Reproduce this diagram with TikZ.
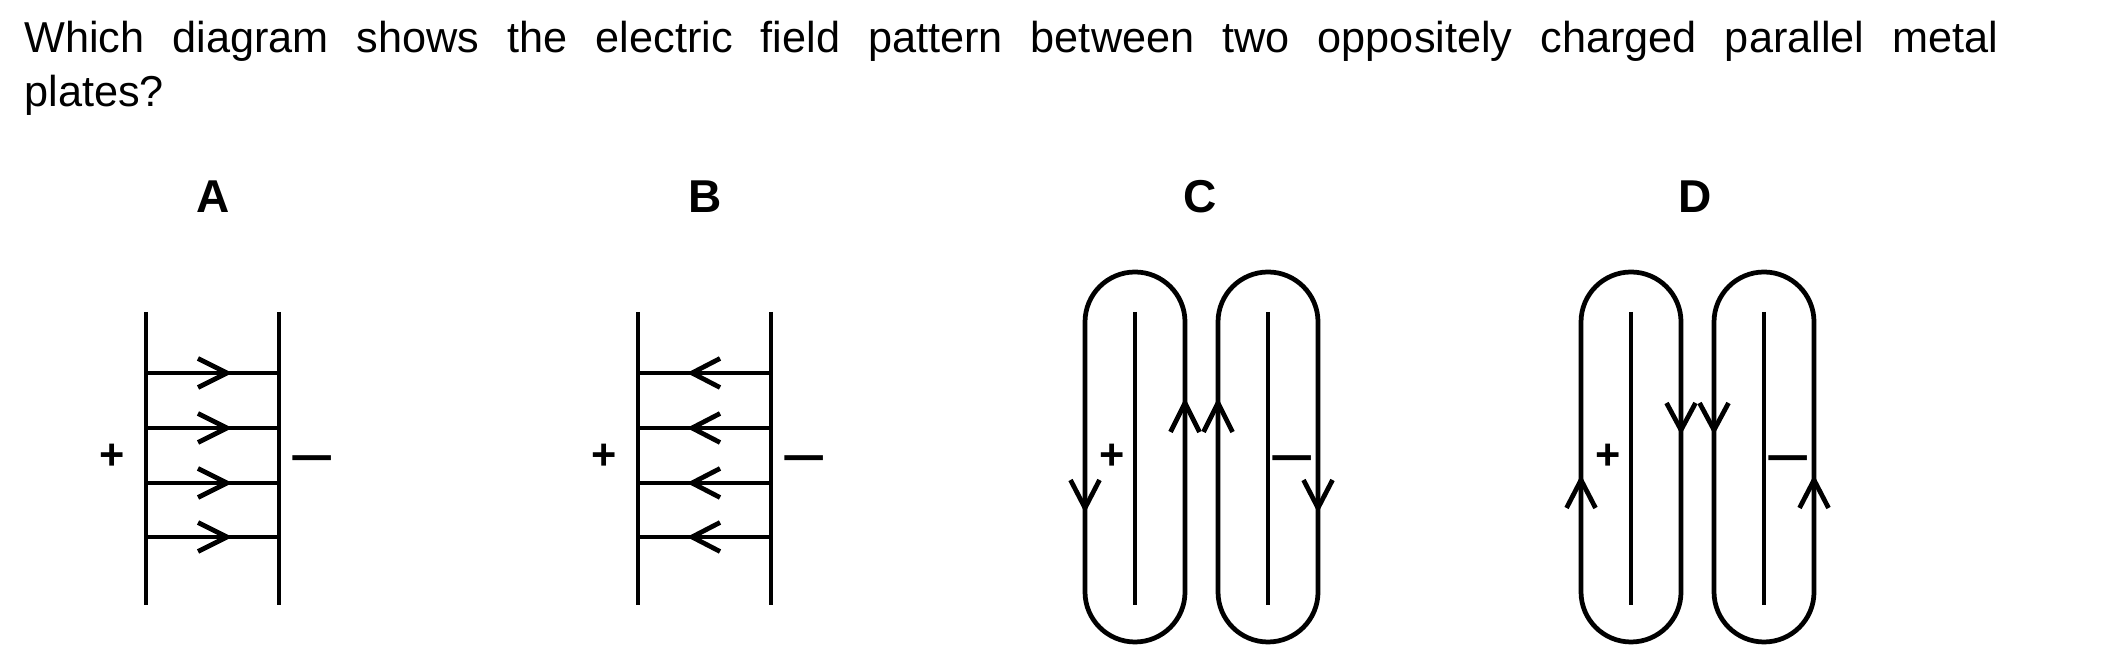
\documentclass[tikz,border=0pt]{standalone}
\usepackage{fontspec}
\setmainfont{Liberation Sans}
\begin{document}
\begin{tikzpicture}[x=0.01cm,y=-0.01cm,line width=1.35pt,
        question/.style={anchor=base west,inner sep=0pt,font=\fontsize{12.3pt}{14pt}\selectfont},
        letter/.style={anchor=base,inner sep=0pt,font=\fontsize{13.1pt}{15pt}\selectfont\bfseries},
        sign/.style={inner sep=0pt,font=\fontsize{12.3pt}{14pt}\selectfont\bfseries},
        chevron/.style={miter limit=10}]
        \useasboundingbox (0,0) rectangle (2101,659);
        %question
        \node[question] (line one) at (22,53) {\makebox[19.73cm][s]{Which diagram shows the electric field pattern between two oppositely charged parallel metal}};
        \node[question] (line two) at (22,107) {plates?};
        %labels
        \foreach \name/\x in {A/213,B/705,C/1200,D/1695}
            \node[letter] (label \name) at (\x,213) {\name};
        %diagrams A and B
        \foreach \p/\tip/\back in {146/227/198, 638/692/720} {
            \draw (\p,312) -- (\p,605);
            \draw (\p+133,312) -- (\p+133,605);
            \foreach \y in {373,428,483,537} {
                \draw (\p,\y) -- (\p+133,\y);
                \draw[chevron] (\back,\y-14.5) -- (\tip,\y) -- (\back,\y+14.5);
            }
            \node[sign] at (\p-34,457) {+};
            \node[sign] at (\p+166,464) {\scalebox{1.8}[1.15]{–}};
        }
        %diagrams C and D
        \foreach \c/\ti/\tb/\oi/\ob in {1135/403/432/508/480, 1631/430/403/480/508} {
            \foreach \l in {\c,\c+133} {
                \draw (\l,312) -- (\l,605);
                \draw (\l-50,322) arc (180:360:50) -- (\l+50,592) arc (0:180:50) -- cycle;
            }
            %inner arrows
            \foreach \x in {\c+50,\c+83}
                \draw[chevron] (\x-14.5,\tb) -- (\x,\ti) -- (\x+14.5,\tb);
            %outer arrows
            \foreach \x in {\c-50,\c+183}
                \draw[chevron] (\x-14.5,\ob) -- (\x,\oi) -- (\x+14.5,\ob);
            \node[sign] at (\c-23,457) {+};
            \node[sign] at (\c+157,464) {\scalebox{1.8}[1.15]{–}};
        }
\end{tikzpicture}
\end{document}
